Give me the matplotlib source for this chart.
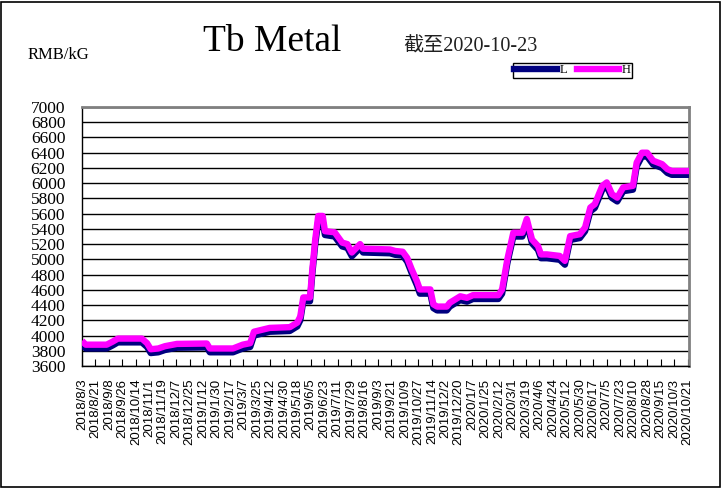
import matplotlib
matplotlib.use('Agg')
import matplotlib.pyplot as plt
from matplotlib.patches import Rectangle
from matplotlib.lines import Line2D
import numpy as np

# Tb metal price, RMB/kG
dates = ['2018-08-03', '2018-08-08', '2018-09-05', '2018-09-13', '2018-09-20',
         '2018-10-22', '2018-10-29', '2018-11-03', '2018-11-13', '2018-11-22',
         '2018-12-08', '2019-01-17', '2019-01-21', '2019-02-21', '2019-03-06',
         '2019-03-16', '2019-03-21', '2019-04-11', '2019-05-08', '2019-05-18',
         '2019-05-22', '2019-05-26', '2019-06-04', '2019-06-07', '2019-06-11',
         '2019-06-15', '2019-06-21', '2019-06-24', '2019-07-07', '2019-07-17',
         '2019-07-24', '2019-07-30', '2019-08-03', '2019-08-10', '2019-08-14',
         '2019-09-19', '2019-09-26', '2019-10-06', '2019-10-12', '2019-10-18',
         '2019-10-25', '2019-10-29', '2019-11-12', '2019-11-16', '2019-11-21',
         '2019-12-04', '2019-12-08', '2019-12-22', '2019-12-31', '2020-01-08',
         '2020-02-11', '2020-02-16', '2020-02-23', '2020-03-02', '2020-03-14',
         '2020-03-20', '2020-03-27', '2020-04-04', '2020-04-08', '2020-04-16',
         '2020-05-03', '2020-05-10', '2020-05-17', '2020-05-30', '2020-06-06',
         '2020-06-13', '2020-06-19', '2020-06-29', '2020-07-05', '2020-07-12',
         '2020-07-19', '2020-07-27', '2020-08-09', '2020-08-14', '2020-08-21',
         '2020-08-28', '2020-09-05', '2020-09-17', '2020-09-24', '2020-09-30',
         '2020-10-23']
high = [3930, 3880, 3880, 3920, 3960,
        3960, 3900, 3820, 3830, 3860,
        3890, 3895, 3830, 3830, 3880,
        3900, 4050, 4100, 4110, 4170,
        4250, 4500, 4500, 4850, 5260,
        5570, 5570, 5370, 5355, 5220,
        5200, 5090, 5130, 5200, 5140,
        5130, 5110, 5100, 5020, 4870,
        4715, 4605, 4605, 4410, 4380,
        4380, 4430, 4515, 4495, 4530,
        4530, 4605, 5000, 5350, 5350,
        5530, 5260, 5175, 5065, 5065,
        5045, 4980, 5305, 5330, 5420,
        5680, 5725, 5965, 6010, 5855,
        5810, 5945, 5965, 6270, 6400,
        6400, 6295, 6250, 6185, 6160,
        6160]
low = [3880, 3830, 3830, 3870, 3910,
       3910, 3850, 3770, 3780, 3810,
       3840, 3845, 3780, 3780, 3830,
       3850, 4000, 4050, 4060, 4120,
       4200, 4450, 4450, 4800, 5200,
       5500, 5500, 5320, 5300, 5170,
       5150, 5040, 5080, 5150, 5090,
       5080, 5060, 5050, 4970, 4820,
       4660, 4550, 4550, 4360, 4330,
       4330, 4380, 4465, 4445, 4480,
       4480, 4550, 4950, 5300, 5300,
       5470, 5210, 5125, 5015, 5015,
       4995, 4930, 5255, 5280, 5370,
       5630, 5675, 5915, 5960, 5805,
       5760, 5895, 5915, 6220, 6350,
       6350, 6245, 6200, 6135, 6110,
       6110]

x = np.array(dates, dtype='datetime64[D]')
tick_start = np.datetime64('2018-08-03')
tick_end = np.datetime64('2020-10-23')

plt.rcParams['font.family'] = ['Liberation Serif', 'Noto Sans CJK SC']

fig = plt.figure(figsize=(7.22, 4.88), dpi=100)
ax = fig.add_axes([82/722, 1 - 366/488, 607/722, 259/488])

ax.plot(x, low, color='#000080', lw=4.6, solid_joinstyle='round', solid_capstyle='butt', zorder=3)
ax.plot(x, high, color='#FF00FF', lw=4.6, solid_joinstyle='round', solid_capstyle='butt', zorder=4)

ax.set_ylim(3600, 7000)
ax.set_yticks(np.arange(3600, 7001, 200))
ax.yaxis.grid(True, color='black', lw=1)
ax.set_axisbelow(True)
ax.tick_params(axis='y', length=0, pad=12, labelsize=12.5)

ticks = np.arange(tick_start, tick_end, 18)
ax.set_xlim(tick_start, tick_end)
ax.set_xticks(ticks)
labels = []
for t in ticks.astype(object):
    labels.append(f'{t.year}/{t.month}/{t.day}')
ax.set_xticklabels(labels, rotation=90, family='Liberation Sans', fontsize=9.5)
ax.tick_params(axis='x', direction='in', length=5, pad=9, color='black')

for s in ['top', 'right']:
    ax.spines[s].set_color('#808080')
    ax.spines[s].set_linewidth(2)
for s in ['left', 'bottom']:
    ax.spines[s].set_color('black')
    ax.spines[s].set_linewidth(1)

fig.text(28/722, 1 - 55/488, 'RMB/kG', fontsize=12, va='center', ha='left')
fig.text(203/722, 1 - 42/488, 'Tb Metal', fontsize=27, va='center', ha='left')
fig.text(403/722, 1 - 47/488, '截至2020-10-23', fontsize=14.5, va='center', ha='left', color='#202020')

handles = [Line2D([], [], color='#000080', lw=4.6), Line2D([], [], color='#FF00FF', lw=4.6)]
leg = fig.legend(handles, ['L', 'H'], loc='upper left', bbox_to_anchor=(513/722, 1 - 63/488),
                 ncol=2, fontsize=9, frameon=True, fancybox=False, edgecolor='black',
                 framealpha=1, borderpad=0.1, handlelength=3.4, handletextpad=0.2,
                 columnspacing=0.8, borderaxespad=0)
leg.get_frame().set_linewidth(1)

fig.patches.append(Rectangle((1/722, 1/488), 719/722, 485/488, transform=fig.transFigure,
                             fill=False, ec='black', lw=1.2))

fig.savefig('out.png', dpi=100)
